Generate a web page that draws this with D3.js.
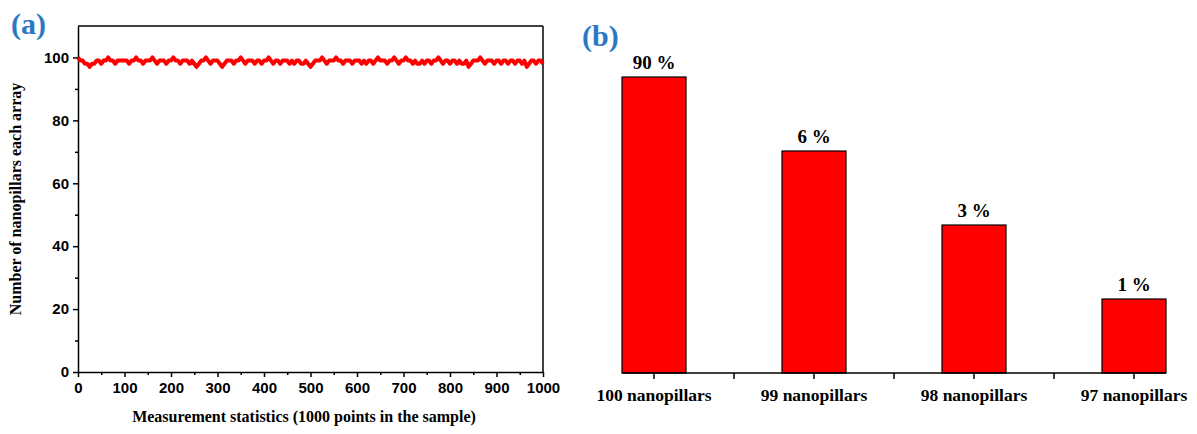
<!DOCTYPE html>
<html>
<head>
<meta charset="utf-8">
<script src="https://cdn.jsdelivr.net/npm/d3@7"></script>
<style>
  body { margin: 0; background: #fff; }
  svg { display: block; }
  .tick-a { font-family: "Liberation Sans", Arial, sans-serif; font-weight: bold; font-size: 15px; }
  .serif { font-family: "Liberation Serif", "Times New Roman", serif; font-weight: bold; }
</style>
</head>
<body>
<svg id="chart" width="1197" height="434"></svg>
<script>
"use strict";

// ==========  Data  ==========
// panel (a): nanopillar count per array, one reading every 5 measurements
var sampleStep = 5
var pillarCounts = [
  100,99,99,98,98,97,98,98,99,99,98,99,99,100,99,99,98,99,99,99,
  99,99,98,99,99,100,99,99,98,99,99,99,100,99,98,99,99,99,98,99,
  99,100,99,99,98,99,99,99,98,99,98,97,98,99,99,100,99,98,99,99,
  99,98,97,98,99,99,99,98,99,99,100,99,98,99,99,99,98,99,99,98,
  99,99,100,99,98,99,99,98,99,99,99,98,99,98,99,99,98,98,99,98,
  97,98,99,99,99,100,99,98,99,99,99,100,99,99,98,99,99,99,98,99,
  99,99,98,99,98,99,99,98,99,100,99,99,99,98,99,99,100,99,98,99,
  99,100,99,99,98,99,98,98,99,98,99,99,98,99,99,100,99,98,99,99,
  98,99,99,98,99,98,98,99,97,98,99,99,99,100,99,98,99,99,99,98,
  99,99,98,99,99,98,99,99,98,99,99,98,99,97,98,99,99,98,99,99,
  98
]
var xTicksA = [0,100,200,300,400,500,600,700,800,900,1000]
var yTicksA = [0,20,40,60,80,100]

// panel (b): share of arrays by pillar count
var categories    = ["100 nanopillars", "99 nanopillars", "98 nanopillars", "97 nanopillars"]
var percentLabels = ["90 %", "6 %", "3 %", "1 %"]
var barLevels     = [4, 3, 2, 1]   // bars are drawn by rank, not to scale

var svg = d3.select('#chart')
var blue = '#2b78c4'

// ==========  Panel (a)  ==========
var xA = d3.scaleLinear().domain([0, 1000]).range([78, 543])
var yA = d3.scaleLinear().domain([0, 110]).range([372, 26])

var gA = svg.append('g')

// frame (top + right)
gA.append('line').attr('x1', xA(0)).attr('x2', xA(1000)).attr('y1', yA(110)).attr('y2', yA(110))
  .attr('stroke', '#000').attr('stroke-width', 1.5)
gA.append('line').attr('x1', xA(1000)).attr('x2', xA(1000)).attr('y1', yA(110)).attr('y2', yA(0))
  .attr('stroke', '#000').attr('stroke-width', 1.5)

var xAxisA = gA.append('g').attr('transform', 'translate(0,' + yA(0) + ')')
  .call(d3.axisBottom(xA).tickValues(xTicksA).tickFormat(d3.format('d'))
    .tickSize(5).tickSizeOuter(0).tickPadding(5))
var xMinorA = gA.append('g').attr('transform', 'translate(0,' + yA(0) + ')')
  .call(d3.axisBottom(xA).tickValues(d3.range(50, 1000, 100)).tickSize(3).tickFormat(''))
var yAxisA = gA.append('g').attr('transform', 'translate(' + xA(0) + ',0)')
  .call(d3.axisLeft(yA).tickValues(yTicksA).tickSize(5).tickSizeOuter(0).tickPadding(4))
var yMinorA = gA.append('g').attr('transform', 'translate(' + xA(0) + ',0)')
  .call(d3.axisLeft(yA).tickValues(d3.range(10, 110, 20)).tickSize(3).tickFormat(''))

;[xAxisA, xMinorA, yAxisA, yMinorA].forEach(function(ax) {
  ax.select('.domain').attr('stroke-width', 1.5)
  ax.selectAll('.tick line').attr('stroke-width', 1.5)
  ax.selectAll('text').attr('class', 'tick-a').attr('fill', '#000')
})
xMinorA.select('.domain').remove()
yMinorA.select('.domain').remove()

var lineA = d3.line()
  .x(function(d, i) { return xA(i * sampleStep) })
  .y(function(d) { return yA(d) })
gA.append('path').datum(pillarCounts)
  .attr('d', lineA)
  .attr('fill', 'none')
  .attr('stroke', '#ff0000')
  .attr('stroke-width', 4)
  .attr('stroke-linejoin', 'round')

gA.append('text').attr('class', 'serif')
  .attr('transform', 'translate(21,' + yA(55) + ') rotate(-90)')
  .attr('text-anchor', 'middle').attr('font-size', 16)
  .text('Number of nanopillars each array')
gA.append('text').attr('class', 'serif')
  .attr('x', 304).attr('y', 422)
  .attr('text-anchor', 'middle').attr('font-size', 16)
  .text('Measurement statistics (1000 points in the sample)')

gA.append('text').attr('class', 'serif')
  .attr('x', 11).attr('y', 34).attr('font-size', 30).attr('fill', blue)
  .text('(a)')

// ==========  Panel (b)  ==========
var xB = d3.scaleBand().domain(categories).range([574, 1214]).paddingInner(0.6).paddingOuter(0.3)
var yB = d3.scaleLinear().domain([0, 4]).range([373, 77])
var gB = svg.append('g')

var step = xB.step()
var first = xB(categories[0]), last = xB(categories[categories.length - 1]) + xB.bandwidth()

gB.selectAll('rect.bar').data(categories).enter().append('rect')
  .attr('class', 'bar')
  .attr('x', function(d) { return xB(d) })
  .attr('width', xB.bandwidth())
  .attr('y', function(d, i) { return yB(barLevels[i]) })
  .attr('height', function(d, i) { return yB(0) - yB(barLevels[i]) })
  .attr('fill', '#ff0000')
  .attr('stroke', '#000').attr('stroke-width', 1.2)

gB.append('line').attr('x1', first).attr('x2', last).attr('y1', yB(0)).attr('y2', yB(0))
  .attr('stroke', '#000').attr('stroke-width', 1.5)

// ticks at bar centres and half-way between them
var tickXs = []
categories.forEach(function(c, i) {
  tickXs.push(xB(c) + xB.bandwidth() / 2)
  if (i < categories.length - 1) tickXs.push(xB(c) + xB.bandwidth() / 2 + step / 2)
})
gB.selectAll('line.tk').data(tickXs).enter().append('line')
  .attr('class', 'tk')
  .attr('x1', function(d) { return d }).attr('x2', function(d) { return d })
  .attr('y1', yB(0)).attr('y2', yB(0) + 6)
  .attr('stroke', '#000').attr('stroke-width', 1.5)

gB.selectAll('text.cat').data(categories).enter().append('text')
  .attr('class', 'serif')
  .attr('x', function(d) { return xB(d) + xB.bandwidth() / 2 })
  .attr('y', 401)
  .attr('text-anchor', 'middle').attr('font-size', 17.5)
  .text(function(d) { return d })

gB.selectAll('text.pct').data(categories).enter().append('text')
  .attr('class', 'serif')
  .attr('x', function(d) { return xB(d) + xB.bandwidth() / 2 })
  .attr('y', function(d, i) { return yB(barLevels[i]) - 8 })
  .attr('text-anchor', 'middle').attr('font-size', 19)
  .text(function(d, i) { return percentLabels[i] })

gB.append('text').attr('class', 'serif')
  .attr('x', 582).attr('y', 46).attr('font-size', 30).attr('fill', blue)
  .text('(b)')
</script>
</body>
</html>
